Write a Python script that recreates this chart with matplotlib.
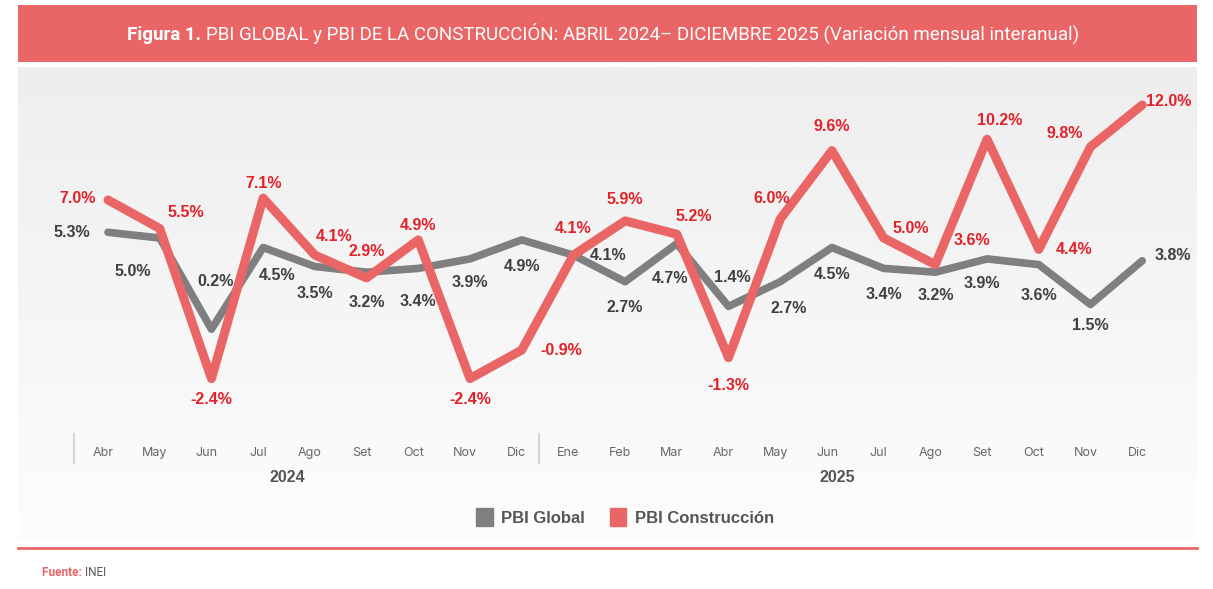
import matplotlib.pyplot as plt
import matplotlib.transforms as mtransforms
import numpy as np
from matplotlib.colors import LinearSegmentedColormap
from matplotlib.patches import Patch, Rectangle

months = ["Abr", "May", "Jun", "Jul", "Ago", "Set", "Oct", "Nov", "Dic",
          "Ene", "Feb", "Mar", "Abr", "May", "Jun", "Jul", "Ago", "Set", "Oct", "Nov", "Dic"]
years = ["2024", "2025"]
pbi_global = [5.3, 5.0, 0.2, 4.5, 3.5, 3.2, 3.4, 3.9, 4.9,
              4.1, 2.7, 4.7, 1.4, 2.7, 4.5, 3.4, 3.2, 3.9, 3.6, 1.5, 3.8]
pbi_constr = [7.0, 5.5, -2.4, 7.1, 4.1, 2.9, 4.9, -2.4, -0.9,
              4.1, 5.9, 5.2, -1.3, 6.0, 9.6, 5.0, 3.6, 10.2, 4.4, 9.8, 12.0]

# label offsets in pixels (dx, dy with y pointing down)
off_constr = [(-30, -2), (26, -16), (0, 21), (0, -15), (19, -19), (0, -26), (0, -14),
              (0, 21), (40, 0), (0, -27), (0, -21), (17, -18), (0, 28), (-9, -21),
              (0, -24), (27, -10), (37, -24), (13, -19), (35, 0), (-26, -13), (26, -4)]
off_global = [(-36, 0), (-27, 33), (4, -48), (14, 28), (0, 27), (0, 30), (0, 33),
               (0, 24), (0, 27), (35, 0), (0, 26), (-7, 35), (4, -29), (8, 27),
               (0, 27), (0, 26), (0, 23), (-5, 25), (0, 31), (0, 21), (31, -5)]

RED = "#EA6565"
RED_TXT = "#E2222A"
GRAY = "#7F7F7F"
W, H = 1213, 589

fig = plt.figure(figsize=(W / 100, H / 100), dpi=100)

# background decorations in pixel coordinates
bg = fig.add_axes([0, 0, 1, 1])
bg.set_xlim(0, W)
bg.set_ylim(H, 0)
bg.axis("off")
bg.add_patch(Rectangle((18, 5), 1179, 57, color=RED, lw=0))
grad = np.linspace(0, 1, 256).reshape(-1, 1)
cmap = LinearSegmentedColormap.from_list("bg", ["#EEEEEE", "#FDFDFD"])
bg.imshow(grad, cmap=cmap, aspect="auto", extent=(18, 1197, 540, 67))
bg.plot([18, 1197], [548, 548], color=RED, lw=2)
title_bold = bg.text(127, 40, "Figura 1. ", ha="left", va="baseline", color="white",
                     fontsize=13.5, fontweight="bold", family="Roboto")
bg.annotate("PBI GLOBAL y PBI DE LA CONSTRUCCIÓN: ABRIL 2024– DICIEMBRE 2025 (Variación mensual interanual)",
            xycoords=title_bold, xy=(1, 0), va="bottom", ha="left", color="white",
            fontsize=13.5, family="Roboto")
fu = bg.text(42, 576, "Fuente: ", ha="left", va="baseline", color=RED, fontsize=8.5,
             fontweight="bold", family="Roboto")
bg.annotate("INEI", xycoords=fu, xy=(1, 0), va="bottom", ha="left", color="#555555",
            fontsize=8.5, family="Roboto")

# main chart
ax = fig.add_axes([18 / W, 1 - 430 / H, 1179 / W, 363 / H])
ax.patch.set_alpha(0)
x = np.arange(len(months))
ax.plot(x, pbi_global, color=GRAY, lw=5.5, solid_capstyle="round", solid_joinstyle="round", zorder=2)
ax.plot(x, pbi_constr, color=RED, lw=6.5, solid_capstyle="round", solid_joinstyle="round", zorder=3)
ax.set_xlim(-1.741, 21.06)
ax.set_ylim(-5.105, 14.0)
for s in ax.spines.values():
    s.set_visible(False)
ax.set_yticks([])
ax.set_xticks(x)
ax.set_xticklabels(months, fontsize=9, color="#666666", family="Inter")
ax.tick_params(axis="x", length=0, pad=12)
shift = mtransforms.ScaledTranslation(-5 / 100, 0, fig.dpi_scale_trans)
for lbl in ax.get_xticklabels():
    lbl.set_transform(lbl.get_transform() + shift)

for i, v in enumerate(pbi_constr):
    dx, dy = off_constr[i]
    ax.annotate(f"{v:.1f}%", (i, v), xytext=(dx, -dy), textcoords="offset pixels",
                ha="center", va="center", color=RED_TXT, fontsize=11.5,
                fontweight="bold", family="Liberation Sans", zorder=5)
for i, v in enumerate(pbi_global):
    dx, dy = off_global[i]
    ax.annotate(f"{v:.1f}%", (i, v), xytext=(dx, -dy), textcoords="offset pixels",
                ha="center", va="center", color="#404040", fontsize=11.5,
                fontweight="bold", family="Liberation Sans", zorder=5)

# group separators and year labels
trans = ax.get_xaxis_transform()
for sx in [-0.66, 8.34]:
    ax.plot([sx, sx], [-0.01, -0.09], transform=trans, color="#D5D5D5", lw=1.5, clip_on=False)
for yx, yr in zip([3.46, 14.1], years):
    ax.text(yx, -0.13, yr, transform=trans, ha="center", va="center", fontsize=11.5,
            fontweight="bold", color="#555555", family="Liberation Sans")

handles = [Patch(color=GRAY, label="PBI Global"), Patch(color=RED, label="PBI Construcción")]
fig.legend(handles=handles, loc="center", bbox_to_anchor=(625 / W, 1 - 517 / H), ncol=2,
           frameon=False, handlelength=1.0, handleheight=1.3, handletextpad=0.5,
           columnspacing=1.5, prop={"family": "Liberation Sans", "weight": "bold", "size": 12},
           labelcolor="#555555")

fig.savefig("out.png", dpi=100)
